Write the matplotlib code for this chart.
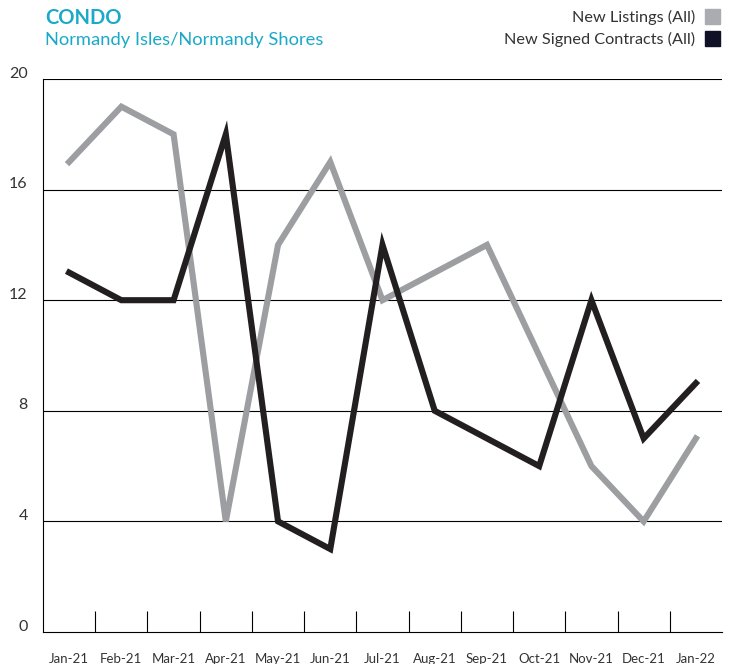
import matplotlib
matplotlib.use("Agg")
import matplotlib.pyplot as plt
import matplotlib.patches as patches
import matplotlib.transforms as mtransforms

# veriler
months = ["Jan-21", "Feb-21", "Mar-21", "Apr-21", "May-21", "Jun-21", "Jul-21",
          "Aug-21", "Sep-21", "Oct-21", "Nov-21", "Dec-21", "Jan-22"]
new_listings = [17, 19, 18, 4, 14, 17, 12, 13, 14, 10, 6, 4, 7]
signed_contracts = [13, 12, 12, 18, 4, 3, 14, 8, 7, 6, 12, 7, 9]
y_ticks = [0, 4, 8, 12, 16, 20]

TEAL = "#1aa9c8"
GRAY = "#9d9ea2"
DARK = "#231f20"

plt.rcParams["font.family"] = ["Lato", "DejaVu Sans"]

fig = plt.figure(figsize=(7.29, 6.64), dpi=100)
ax = fig.add_axes([43 / 729, 32 / 664, 679 / 729, 553 / 664])

x = list(range(len(months)))
ax.plot(x, new_listings, color=GRAY, lw=4.4, solid_joinstyle="miter", zorder=3)
ax.plot(x, signed_contracts, color=DARK, lw=4.4, solid_joinstyle="miter", zorder=4)

ax.set_xlim(-0.5, len(months) - 0.5)
ax.set_ylim(0, 20)

# grid lines
for v in y_ticks[1:]:
    ax.axhline(v, color="black", lw=0.8, zorder=1)
ax.set_yticks(y_ticks)
ax.set_yticklabels([str(v) for v in y_ticks], fontsize=11.5, color="#333333",
                   va="baseline")
ax.tick_params(axis="y", length=0, pad=11)
shift = mtransforms.ScaledTranslation(0, 1 / 72, fig.dpi_scale_trans)
for lbl in ax.get_yticklabels():
    lbl.set_transform(lbl.get_transform() + shift)

# kategori sınırlarında küçük tikler
ax.set_xticks([i + 0.5 for i in x[:-1]], minor=True)
ax.set_xticks(x)
ax.set_xticklabels(months, fontsize=9.5, color="#333333")
ax.tick_params(axis="x", which="major", length=0, pad=15)
ax.tick_params(axis="x", which="minor", direction="in", length=15, width=0.8)

for s in ["top", "right"]:
    ax.spines[s].set_visible(False)
ax.spines["left"].set_linewidth(0.8)
ax.spines["bottom"].set_linewidth(0.8)

# başlık
fig.text(45 / 729, 1 - 18 / 664, "CONDO", color=TEAL, fontsize=14.5,
         fontweight="bold", va="center", ha="left")
fig.text(45 / 729, 1 - 40 / 664, "Normandy Isles/Normandy Shores", color=TEAL,
         fontsize=13.2, va="center", ha="left")

# lejant
legend_items = [("New Listings (All)", "#abacb1", 17), ("New Signed Contracts (All)", "#0f1226", 39)]
for label, c, yy in legend_items:
    fig.text(695 / 729, 1 - yy / 664, label, color="#333333", fontsize=11.7,
             va="center", ha="right")
    fig.patches.append(patches.Rectangle((705 / 729, 1 - (yy + 7) / 664), 15 / 729, 15 / 664,
                                         transform=fig.transFigure, color=c))

fig.savefig("out.png", dpi=100)
